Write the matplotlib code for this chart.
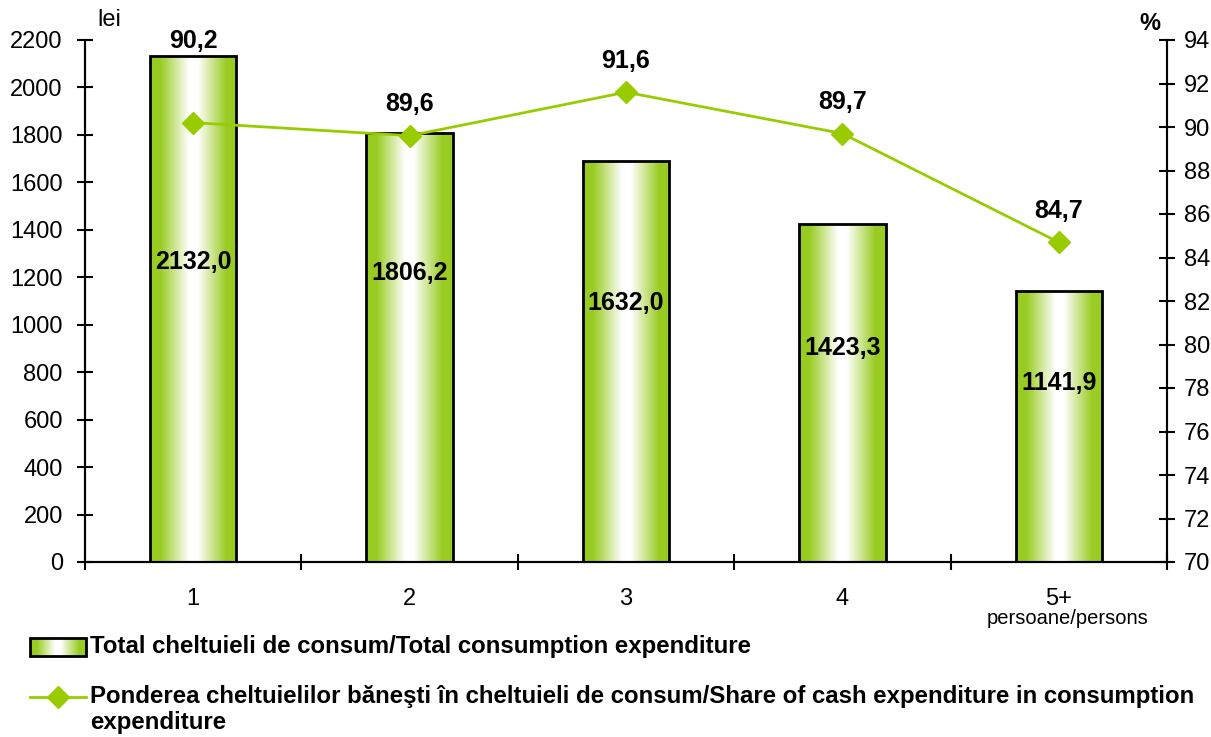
import numpy as np
import matplotlib
matplotlib.use('Agg')
import matplotlib.pyplot as plt
from matplotlib.colors import LinearSegmentedColormap
from matplotlib.patches import Rectangle
from matplotlib.lines import Line2D

plt.rcParams['font.family'] = ['Liberation Sans', 'DejaVu Sans']

categories = ['1', '2', '3', '4', '5+']
bar_heights = [2132.0, 1806.2, 1690.0, 1423.3, 1141.9]
bar_labels = ['2132,0', '1806,2', '1632,0', '1423,3', '1141,9']
bar_label_y = [1264, 1218, 1091, 902, 754]
share = [90.2, 89.6, 91.6, 89.7, 84.7]
share_labels = ['90,2', '89,6', '91,6', '89,7', '84,7']

green = '#99CC22'
line_green = '#99CC00'
cmap = LinearSegmentedColormap.from_list(
    'g', [(0, green), (0.12, green), (0.45, '#ffffff'), (0.55, '#ffffff'), (0.88, green), (1, green)])

fig = plt.figure(figsize=(12.11, 7.37), dpi=100)
ax1 = fig.add_axes([85/1211, 1-562/737, (1167-85)/1211, 522/737])
ax2 = ax1.twinx()

x = np.arange(len(categories))
w = 0.40
t = np.linspace(0, 1, 256)
grad = np.vstack([t, t])
for xi, h in zip(x, bar_heights):
    ax1.imshow(grad, extent=(xi-w/2, xi+w/2, 0, h), aspect='auto', cmap=cmap,
               origin='lower', zorder=1, interpolation='bilinear')
    ax1.add_patch(Rectangle((xi-w/2, 0), w, h, facecolor='none', edgecolor='black',
                            lw=2, zorder=2))
for xi, lab, ly in zip(x, bar_labels, bar_label_y):
    ax1.text(xi, ly, lab, ha='center', va='center', fontsize=18, fontweight='bold', zorder=5)

ax1.set_xlim(-0.5, 4.5)
ax1.set_ylim(0, 2200)
ax1.set_yticks(np.arange(0, 2201, 200))
ax1.set_xticks(np.arange(-0.5, 4.6, 1))
ax1.set_xticklabels([])
ax1.set_xticks(x, minor=True)
ax1.set_xticklabels(categories, minor=True)
ax1.tick_params(axis='x', which='major', direction='inout', length=12, width=1.5)
ax1.tick_params(axis='x', which='minor', length=0, labelsize=17, pad=19)
ax1.tick_params(axis='y', direction='inout', length=12, width=1.5, labelsize=17, pad=10)

ax2.plot(x, share, color=line_green, lw=2, marker='D', markersize=11, zorder=4)
ax2.set_ylim(70, 94)
ax2.set_yticks(np.arange(70, 95, 2))
ax2.tick_params(axis='y', direction='inout', length=12, width=1.5, labelsize=17, pad=6)
for i, (xi, v, lab) in enumerate(zip(x, share, share_labels)):
    ly = 93.95 if i == 0 else v + 1.45
    ax2.text(xi, ly, lab, ha='center', va='center', fontsize=18, fontweight='bold')

for ax in (ax1, ax2):
    ax.spines['top'].set_visible(False)
    for s in ('left', 'right', 'bottom'):
        ax.spines[s].set_linewidth(1.5)
ax1.set_zorder(ax2.get_zorder() - 1)
ax2.patch.set_visible(False)

fig.text(97/1211, 1-20/737, 'lei', fontsize=17, ha='left', va='center')
fig.text(1150/1211, 1-24/737, '%', fontsize=17, fontweight='bold', ha='center', va='center')
fig.text(1068/1211, 1-618/737, 'persoane/persons', fontsize=14.5, ha='center', va='center')

# legend drawn by hand
lax = fig.add_axes([0, 0, 1, 1], facecolor='none')
lax.set_xlim(0, 1211)
lax.set_ylim(737, 0)
lax.axis('off')
lax.imshow(grad, extent=(30, 86, 656, 638), aspect='auto', cmap=cmap, interpolation='bilinear')
lax.add_patch(Rectangle((30, 638), 56, 18, facecolor='none', edgecolor='black', lw=2))
lax.add_line(Line2D([30, 86], [697, 697], color=line_green, lw=2))
lax.plot([58], [697], marker='D', color=line_green, markersize=11)
lax.set_xlim(0, 1211)
lax.set_ylim(737, 0)
lax.text(90, 647, 'Total cheltuieli de consum/Total consumption expenditure',
         fontsize=17.3, fontweight='bold', va='center', ha='left')
lax.text(90, 697, 'Ponderea cheltuielilor băneşti în cheltuieli de consum/Share of cash expenditure in consumption',
         fontsize=17.3, fontweight='bold', va='center', ha='left')
lax.text(90, 722, 'expenditure', fontsize=17.3, fontweight='bold', va='center', ha='left')

fig.savefig('out.png', dpi=100)
